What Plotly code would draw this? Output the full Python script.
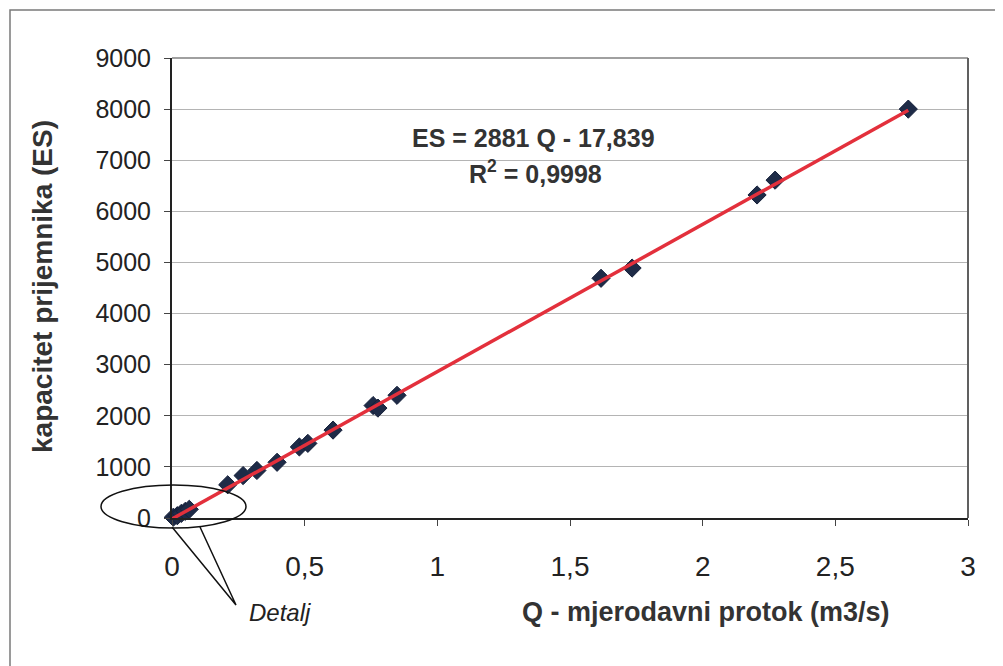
import plotly.graph_objects as go
import numpy as np

# Data
Q = [0.005, 0.02, 0.035, 0.05, 0.065, 0.21, 0.268, 0.32, 0.396, 0.48, 0.512,
     0.607, 0.758, 0.776, 0.848, 1.617, 1.734, 2.205, 2.273, 2.775]
ES = [15, 45, 90, 130, 170, 650, 830, 930, 1090, 1390, 1460,
      1720, 2200, 2150, 2400, 4690, 4890, 6320, 6610, 8000]

slope = 2881
intercept = -17.839
eq_text = "ES = 2881 Q - 17,839"
r2_text = "R<sup>2</sup> = 0,9998"
x_ticks = [0, 0.5, 1, 1.5, 2, 2.5, 3]
y_ticks = [0, 1000, 2000, 3000, 4000, 5000, 6000, 7000, 8000, 9000]

FONT = "Liberation Sans, Arial, sans-serif"
W, H = 1003, 666
OFF = 8  # page body margin
# target screen-pixel positions of the plot area
L, R, T, B = 172, 968, 58, 518

def px(x):
    return (x - L) / (R - L)

def py(y):
    return (B - y) / (B - T)

line_x = np.array([0.0, max(Q)])
line_y = slope * line_x + intercept

fig = go.Figure()
fig.add_trace(go.Scatter(
    x=Q, y=ES, mode="markers",
    marker=dict(symbol="diamond", size=14, color="#1e2b47",
                line=dict(color="#15203a", width=1)),
    showlegend=False, cliponaxis=False))
fig.add_trace(go.Scatter(
    x=line_x, y=line_y, mode="lines",
    line=dict(color="#e3303c", width=3.5),
    showlegend=False, cliponaxis=False))

shapes = [
    # outer frame
    dict(type="rect", xref="paper", yref="paper", x0=px(10), x1=px(1100),
         y0=py(800), y1=py(10), line=dict(color="#7a7a7a", width=1.5), layer="below"),
    # plot top & right borders
    dict(type="line", xref="paper", yref="paper", x0=0, x1=1, y0=1, y1=1,
         line=dict(color="#808080", width=1.5)),
    dict(type="line", xref="paper", yref="paper", x0=1, x1=1, y0=0, y1=1,
         line=dict(color="#606060", width=2)),
    # callout ellipse
    dict(type="circle", xref="paper", yref="paper", x0=px(101), x1=px(246),
         y0=py(528), y1=py(485), line=dict(color="#111111", width=1.5)),
    # callout tail
    dict(type="path", xref="paper", yref="paper",
         path=f"M {px(172)} {py(527)} L {px(236)} {py(605)} L {px(200)} {py(527)}",
         line=dict(color="#111111", width=1.5)),
]

annotations = [
    dict(xref="paper", yref="paper", x=px(533), y=py(138), text="<b>" + eq_text + "</b>",
         showarrow=False, font=dict(family=FONT, size=25, color="#333333"),
         xanchor="center", yanchor="middle"),
    dict(xref="paper", yref="paper", x=px(535), y=py(172), text="<b>" + r2_text + "</b>",
         showarrow=False, font=dict(family=FONT, size=25, color="#333333"),
         xanchor="center", yanchor="middle"),
    dict(xref="paper", yref="paper", x=px(280), y=py(612), text="<i>Detalj</i>",
         showarrow=False, font=dict(family=FONT, size=24, color="#222222"),
         xanchor="center", yanchor="middle"),
    dict(xref="paper", yref="paper", x=px(706), y=py(612),
         text="<b>Q - mjerodavni protok (m3/s)</b>",
         showarrow=False, font=dict(family=FONT, size=27, color="#333333"),
         xanchor="center", yanchor="middle"),
    dict(xref="paper", yref="paper", x=px(42), y=py(287),
         text="<b>kapacitet prijemnika (ES)</b>", textangle=-90,
         showarrow=False, font=dict(family=FONT, size=28, color="#333333"),
         xanchor="center", yanchor="middle"),
]

fig.update_layout(
    width=W, height=H,
    margin=dict(l=L - OFF, r=W - (R - OFF), t=T - OFF, b=H - (B - OFF)),
    paper_bgcolor="white", plot_bgcolor="white",
    separators=",.",
    shapes=shapes, annotations=annotations,
    xaxis=dict(range=[0, 3], tickvals=x_ticks, showgrid=False, zeroline=False,
               showline=True, linecolor="#222222", linewidth=2,
               ticks="outside", ticklen=6, tickcolor="#444444",
               ticklabelstandoff=16,
               tickfont=dict(family=FONT, size=28, color="#222222")),
    yaxis=dict(range=[0, 9000], tickvals=y_ticks, showgrid=True,
               gridcolor="#b4b4b4", gridwidth=1, zeroline=False,
               showline=True, linecolor="#222222", linewidth=2,
               ticks="outside", ticklen=6, tickcolor="#444444",
               ticklabelstandoff=8,
               tickfont=dict(family=FONT, size=25, color="#222222")),
)

fig.write_html("out.html")
